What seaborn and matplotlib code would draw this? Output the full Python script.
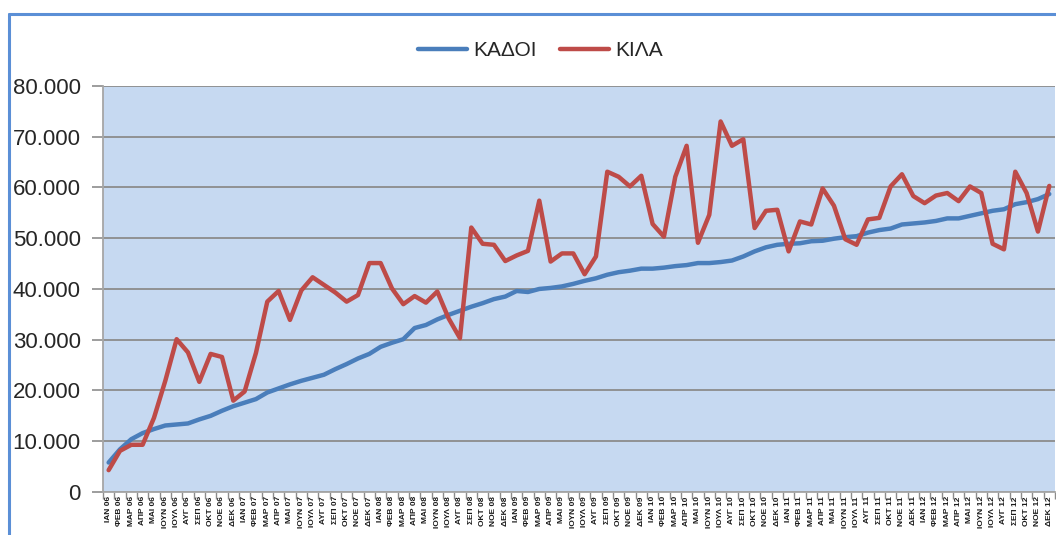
import pandas as pd
import matplotlib.pyplot as plt
import seaborn as sns
from matplotlib.lines import Line2D
from matplotlib.ticker import FuncFormatter

# ------------------ data ------------------
months = ['ΙΑΝ', 'ΦΕΒ', 'ΜΑΡ', 'ΑΠΡ', 'ΜΑΙ', 'ΙΟΥΝ', 'ΙΟΥΛ', 'ΑΥΓ', 'ΣΕΠ', 'ΟΚΤ', 'ΝΟΕ', 'ΔΕΚ']
years = ['06', '07', '08', '09', '10', '11', '12']
labels = [f"{m} {y}" for y in years for m in months]

kadoi = [5800, 8400, 10400, 11600, 12400, 13100, 13300, 13500, 14300, 15000, 16000, 16900,
         17600, 18300, 19600, 20400, 21200, 21900, 22500, 23100, 24200, 25200, 26300, 27200,
         28600, 29400, 30100, 32300, 32900, 34000, 34900, 35700, 36500, 37200, 38000, 38500,
         39600, 39400, 40000, 40200, 40500, 41000, 41600, 42100, 42800, 43300, 43600, 44000,
         44000, 44200, 44500, 44700, 45100, 45100, 45300, 45600, 46400, 47400, 48200, 48700,
         48900, 49000, 49400, 49500, 49900, 50200, 50400, 51100, 51600, 51900, 52700, 52900,
         53100, 53400, 53900, 53900, 54400, 54900, 55400, 55700, 56700, 57100, 57700, 58700]

kila = [4300, 8100, 9300, 9300, 14600, 21900, 30100, 27500, 21700, 27200, 26600, 18000,
        19800, 27400, 37500, 39600, 33900, 39700, 42300, 40800, 39300, 37500, 38800, 45100,
        45100, 40100, 37000, 38600, 37300, 39500, 34200, 30300, 52100, 48900, 48700, 45500,
        46600, 47500, 57400, 45400, 47000, 47000, 42900, 46400, 63100, 62100, 60200, 62300,
        52800, 50300, 62100, 68200, 49100, 54600, 73000, 68200, 69500, 52000, 55400, 55600,
        47400, 53300, 52700, 59800, 56400, 49800, 48700, 53700, 54000, 60200, 62600, 58300,
        56900, 58400, 58900, 57300, 60200, 58900, 48900, 47800, 63100, 58900, 51300, 60300]

df = pd.DataFrame({
    'x': list(range(len(labels))) * 2,
    'value': kadoi + kila,
    'series': ['ΚΑΔΟΙ'] * len(kadoi) + ['ΚΙΛΑ'] * len(kila),
})

# ------------------ plot ------------------
sns.set_style('white')
plt.rcParams['font.family'] = ['Liberation Sans', 'DejaVu Sans']

fig = plt.figure(figsize=(10.56, 5.35), dpi=100)
ax = fig.add_axes([0.0975, 0.0804, 0.9015, 0.759])
ax.set_facecolor('#C6D9F1')

sns.lineplot(data=df, x='x', y='value', hue='series',
             palette={'ΚΑΔΟΙ': '#4A7EBB', 'ΚΙΛΑ': '#BE4B48'},
             linewidth=3.2, ax=ax, legend=False)

ax.set_xlim(-0.5, len(labels) - 0.5)
ax.set_ylim(0, 80000)
ax.set_yticks(range(0, 80001, 10000))
ax.yaxis.set_major_formatter(FuncFormatter(lambda v, p: f"{int(v):,}".replace(',', '.')))
ax.tick_params(axis='y', labelsize=16, length=8, width=1.2, color='#8C8C8C',
               labelcolor='#262626', pad=8, left=True)
ax.grid(axis='y', color='#8C8C8C', linewidth=1.3)
ax.set_axisbelow(True)

ax.set_xticks(range(len(labels)))
ax.set_xticklabels(labels, rotation=90, fontsize=6, fontweight='bold')
ax.set_xticks([i - 0.5 for i in range(len(labels) + 1)], minor=True)
ax.tick_params(axis='x', which='major', length=0, pad=3, labelcolor='#1a1a1a')
ax.tick_params(axis='x', which='minor', length=5, width=1, color='#8C8C8C', bottom=True)
ax.set_xlabel('')
ax.set_ylabel('')

for s in ['top', 'right']:
    ax.spines[s].set_visible(False)
for s in ['left', 'bottom']:
    ax.spines[s].set_color('#A6A6A6')
    ax.spines[s].set_linewidth(1.3)

handles = [Line2D([], [], color='#4A7EBB', linewidth=3.2),
           Line2D([], [], color='#BE4B48', linewidth=3.2)]
fig.legend(handles, ['ΚΑΔΟΙ', 'ΚΙΛΑ'], loc='center', bbox_to_anchor=(0.512, 0.905),
           ncol=2, frameon=False, fontsize=15, handlelength=2.35, handletextpad=0.3,
           columnspacing=1.1)

# chart frame (cropped at right and bottom)
fig.add_artist(Line2D([9 / 1056, 1.0], [1 - 14 / 535] * 2, color='#5B8FD6', linewidth=2.2))
fig.add_artist(Line2D([9 / 1056] * 2, [0.0, 1 - 14 / 535], color='#5B8FD6', linewidth=2.2))

fig.savefig('out.png', dpi=100)
